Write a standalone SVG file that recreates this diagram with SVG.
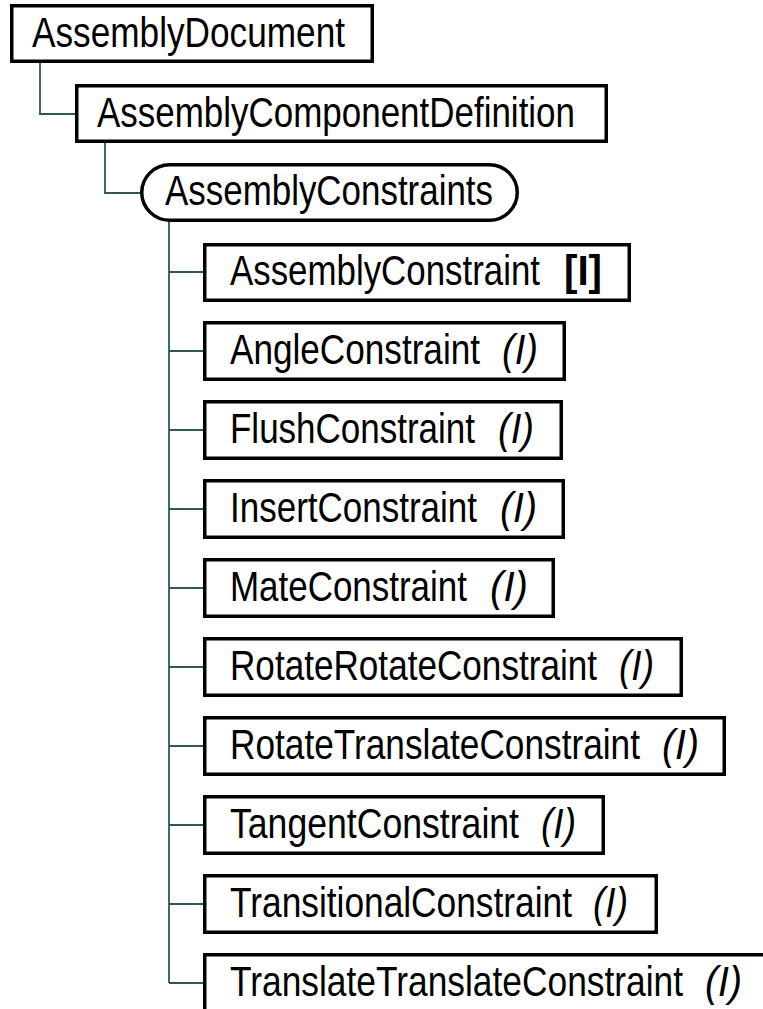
<svg xmlns="http://www.w3.org/2000/svg" width="763" height="1009" viewBox="0 0 763 1009">
<style>
.box{fill:#fff;stroke:#000;stroke-width:3.5}
.t{font-family:"Liberation Sans",Arial,sans-serif;font-size:42px;fill:#000}
.i{font-style:italic}
.b{font-weight:bold}
.c{fill:none;stroke:#2e5858;stroke-width:1.8}
</style>
<rect width="763" height="1009" fill="#fff"/>
<g id="connectors">
<path class="c" d="M40,63 V114 H76"/>
<path class="c" d="M105,143 V193 H141"/>
<path class="c" d="M169,222 V983"/>
<path class="c" d="M169,272 H204 M169,351 H204 M169,430 H204 M169,509 H204 M169,588 H204 M169,667 H204 M169,746 H204 M169,825 H204 M169,904 H204 M169,983 H204"/>
</g>
<g id="n-AssemblyDocument">
<rect class="box" x="11.75" y="5.75" width="360.5" height="55.5"/>
<text class="t" transform="translate(32,47) scale(0.83,1)" textLength="377.1" lengthAdjust="spacingAndGlyphs">AssemblyDocument</text>
</g>
<g id="n-AssemblyComponentDefinition">
<rect class="box" x="76.75" y="85.75" width="529.5" height="55.5"/>
<text class="t" transform="translate(97,127) scale(0.83,1)" textLength="575.9" lengthAdjust="spacingAndGlyphs">AssemblyComponentDefinition</text>
</g>
<g id="n-AssemblyConstraints">
<rect class="box" x="141.75" y="164.75" width="375.5" height="55.5" rx="28" ry="28"/>
<text class="t" transform="translate(165,205) scale(0.83,1)" textLength="395.2" lengthAdjust="spacingAndGlyphs">AssemblyConstraints</text>
</g>
<g id="n-AssemblyConstraint">
<rect class="box" x="204.75" y="244.75" width="424.5" height="55.5"/>
<text class="t" transform="translate(230,285) scale(0.83,1)" textLength="373.5" lengthAdjust="spacingAndGlyphs">AssemblyConstraint</text>
<text class="t b" transform="translate(564,285) scale(0.83,1)" textLength="45.8" lengthAdjust="spacingAndGlyphs">[I]</text>
</g>
<g id="n-AngleConstraint">
<rect class="box" x="204.75" y="322.75" width="359.5" height="56.5"/>
<text class="t" transform="translate(230,364) scale(0.83,1)" textLength="301.2" lengthAdjust="spacingAndGlyphs">AngleConstraint</text>
<text class="t i" transform="translate(502,364) scale(0.83,1)" textLength="43.4" lengthAdjust="spacingAndGlyphs">(I)</text>
</g>
<g id="n-FlushConstraint">
<rect class="box" x="204.75" y="401.75" width="356.5" height="56.5"/>
<text class="t" transform="translate(230,443) scale(0.83,1)" textLength="295.2" lengthAdjust="spacingAndGlyphs">FlushConstraint</text>
<text class="t i" transform="translate(498,443) scale(0.83,1)" textLength="43.4" lengthAdjust="spacingAndGlyphs">(I)</text>
</g>
<g id="n-InsertConstraint">
<rect class="box" x="204.75" y="480.75" width="358.5" height="56.5"/>
<text class="t" transform="translate(230,522) scale(0.83,1)" textLength="297.6" lengthAdjust="spacingAndGlyphs">InsertConstraint</text>
<text class="t i" transform="translate(500,522) scale(0.83,1)" textLength="44.6" lengthAdjust="spacingAndGlyphs">(I)</text>
</g>
<g id="n-MateConstraint">
<rect class="box" x="204.75" y="559.75" width="348.5" height="56.5"/>
<text class="t" transform="translate(230,601) scale(0.83,1)" textLength="285.5" lengthAdjust="spacingAndGlyphs">MateConstraint</text>
<text class="t i" transform="translate(490,601) scale(0.83,1)" textLength="45.8" lengthAdjust="spacingAndGlyphs">(I)</text>
</g>
<g id="n-RotateRotateConstraint">
<rect class="box" x="204.75" y="638.75" width="476.5" height="56.5"/>
<text class="t" transform="translate(230,680) scale(0.83,1)" textLength="442.2" lengthAdjust="spacingAndGlyphs">RotateRotateConstraint</text>
<text class="t i" transform="translate(619,680) scale(0.83,1)" textLength="42.2" lengthAdjust="spacingAndGlyphs">(I)</text>
</g>
<g id="n-RotateTranslateConstraint">
<rect class="box" x="204.75" y="717.75" width="519.5" height="56.5"/>
<text class="t" transform="translate(230,759) scale(0.83,1)" textLength="494" lengthAdjust="spacingAndGlyphs">RotateTranslateConstraint</text>
<text class="t i" transform="translate(662,759) scale(0.83,1)" textLength="44.6" lengthAdjust="spacingAndGlyphs">(I)</text>
</g>
<g id="n-TangentConstraint">
<rect class="box" x="204.75" y="796.75" width="398.5" height="56.5"/>
<text class="t" transform="translate(230,838) scale(0.83,1)" textLength="348.2" lengthAdjust="spacingAndGlyphs">TangentConstraint</text>
<text class="t i" transform="translate(541,838) scale(0.83,1)" textLength="42.2" lengthAdjust="spacingAndGlyphs">(I)</text>
</g>
<g id="n-TransitionalConstraint">
<rect class="box" x="204.75" y="875.75" width="451.5" height="56.5"/>
<text class="t" transform="translate(230,917) scale(0.83,1)" textLength="412" lengthAdjust="spacingAndGlyphs">TransitionalConstraint</text>
<text class="t i" transform="translate(593,917) scale(0.83,1)" textLength="42.2" lengthAdjust="spacingAndGlyphs">(I)</text>
</g>
<g id="n-TranslateTranslateConstraint">
<rect class="box" x="204.75" y="954.75" width="600" height="100"/>
<text class="t" transform="translate(230,996) scale(0.83,1)" textLength="545.8" lengthAdjust="spacingAndGlyphs">TranslateTranslateConstraint</text>
<text class="t i" transform="translate(705,996) scale(0.83,1)" textLength="44.6" lengthAdjust="spacingAndGlyphs">(I)</text>
</g>
</svg>
